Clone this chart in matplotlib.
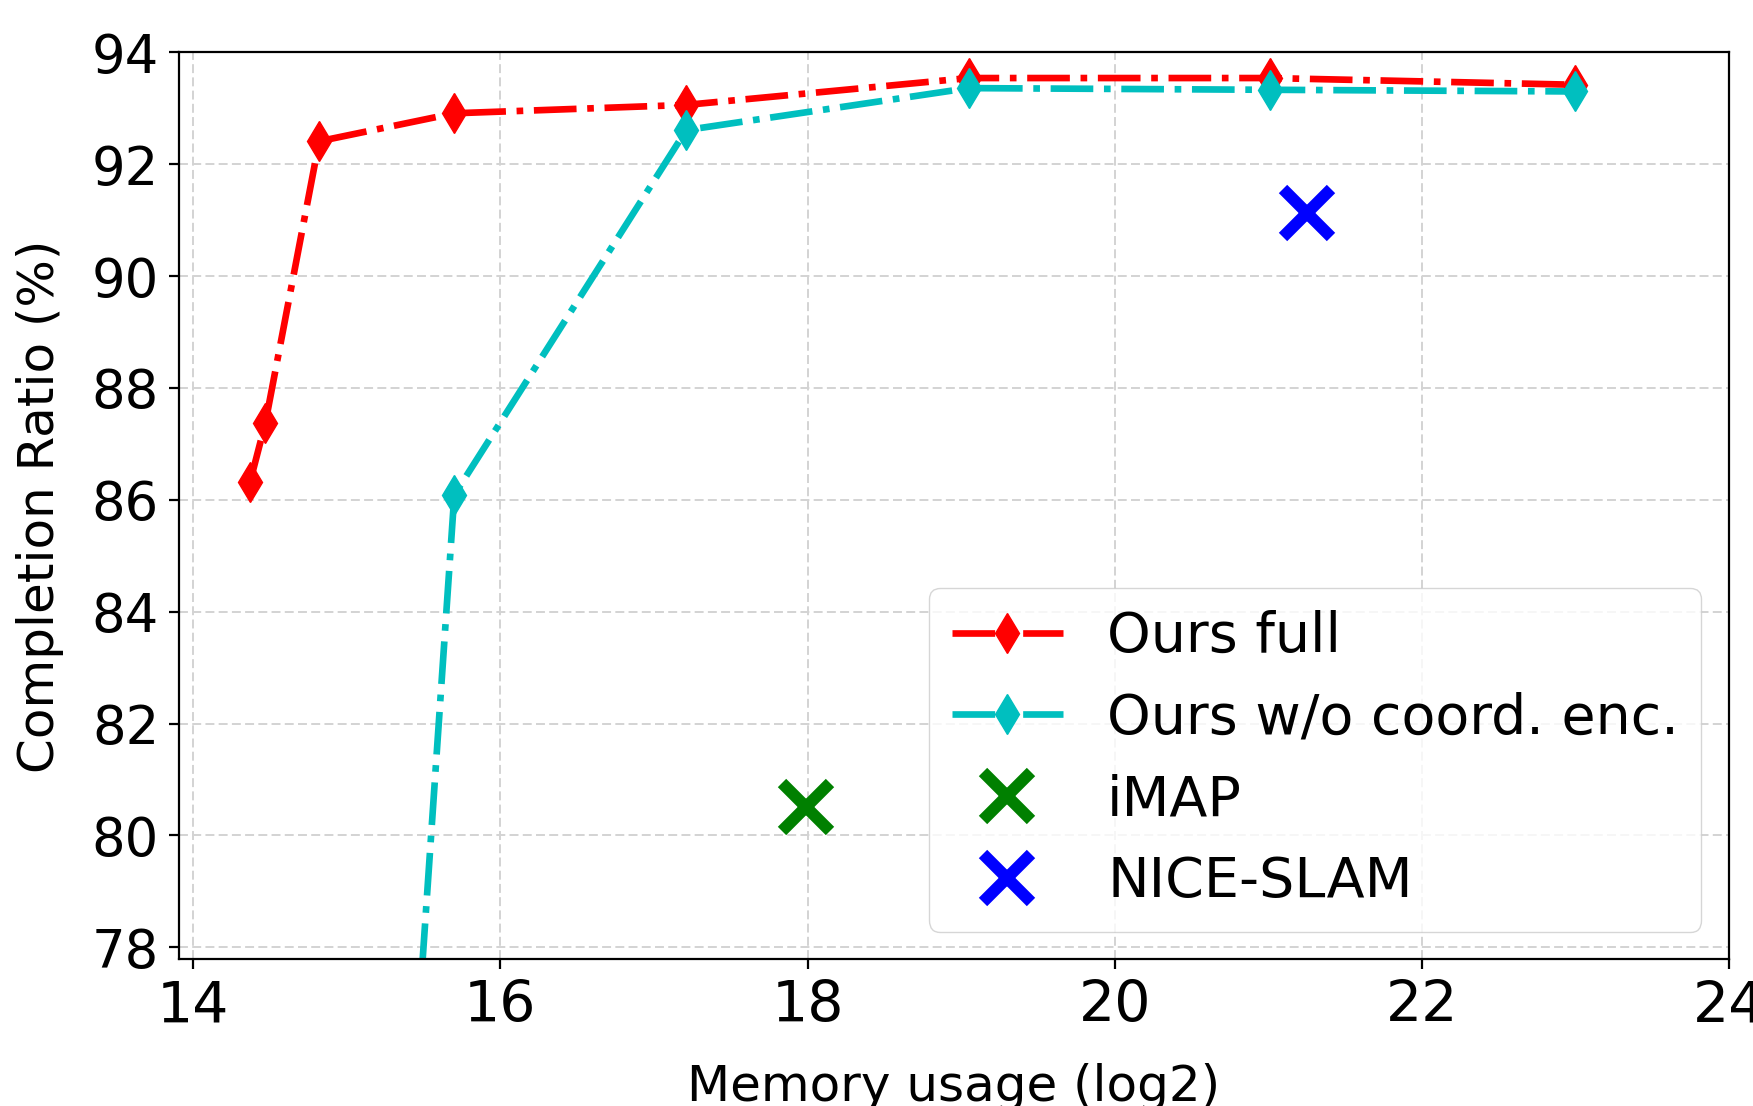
import matplotlib
matplotlib.use('Agg')
import matplotlib.pyplot as plt

# memory usage (log2) vs completion ratio (%)
full_x = [14.37, 14.47, 14.82, 15.70, 17.21, 19.05, 21.01, 23.00]
full_y = [86.32, 87.38, 92.41, 92.91, 93.06, 93.54, 93.54, 93.42]

nocoord_x = [15.00, 15.70, 17.21, 19.05, 21.01, 23.00]
nocoord_y = [57.90, 86.09, 92.61, 93.36, 93.33, 93.30]

imap_x = [17.99]
imap_y = [80.51]

nice_x = [21.25]
nice_y = [91.13]

labels = ['Ours full', 'Ours w/o coord. enc.', 'iMAP', 'NICE-SLAM']
x_ticks = [14, 16, 18, 20, 22, 24]
y_ticks = [78, 80, 82, 84, 86, 88, 90, 92, 94]

fig = plt.figure(figsize=(17.53, 11.06), dpi=100)
ax = fig.add_axes([0.1021, 0.1326, 0.8842, 0.8201])

ax.plot(full_x, full_y, color='r', linestyle='-.', linewidth=4.8,
        marker='d', markersize=20, label=labels[0])
ax.plot(nocoord_x, nocoord_y, color='c', linestyle='-.', linewidth=4.8,
        marker='d', markersize=20, label=labels[1])
ax.plot(imap_x, imap_y, color='g', linestyle='none', marker='x',
        markersize=35, markeredgewidth=8.5, label=labels[2])
ax.plot(nice_x, nice_y, color='b', linestyle='none', marker='x',
        markersize=35, markeredgewidth=8.5, label=labels[3])

ax.set_xlim(13.907, 24)
ax.set_ylim(77.785, 94)
ax.set_xticks(x_ticks)
ax.set_yticks(y_ticks)

ax.grid(True, color='#d3d3d3', linestyle=(0, (4.6, 2.2)), linewidth=1.4)
ax.set_axisbelow(True)

ax.tick_params(axis='x', labelsize=41, length=7, width=1.6, pad=7.3)
ax.tick_params(axis='y', labelsize=38, length=7, width=1.6, pad=7.3)
for sp in ax.spines.values():
    sp.set_linewidth(1.6)

ax.set_xlabel('Memory usage (log2)', fontsize=36, labelpad=20.5)
ax.set_ylabel('Completion Ratio (%)', fontsize=36, labelpad=20)

ax.legend(loc='lower right', fontsize=40)

fig.savefig('out.png', dpi=100)
